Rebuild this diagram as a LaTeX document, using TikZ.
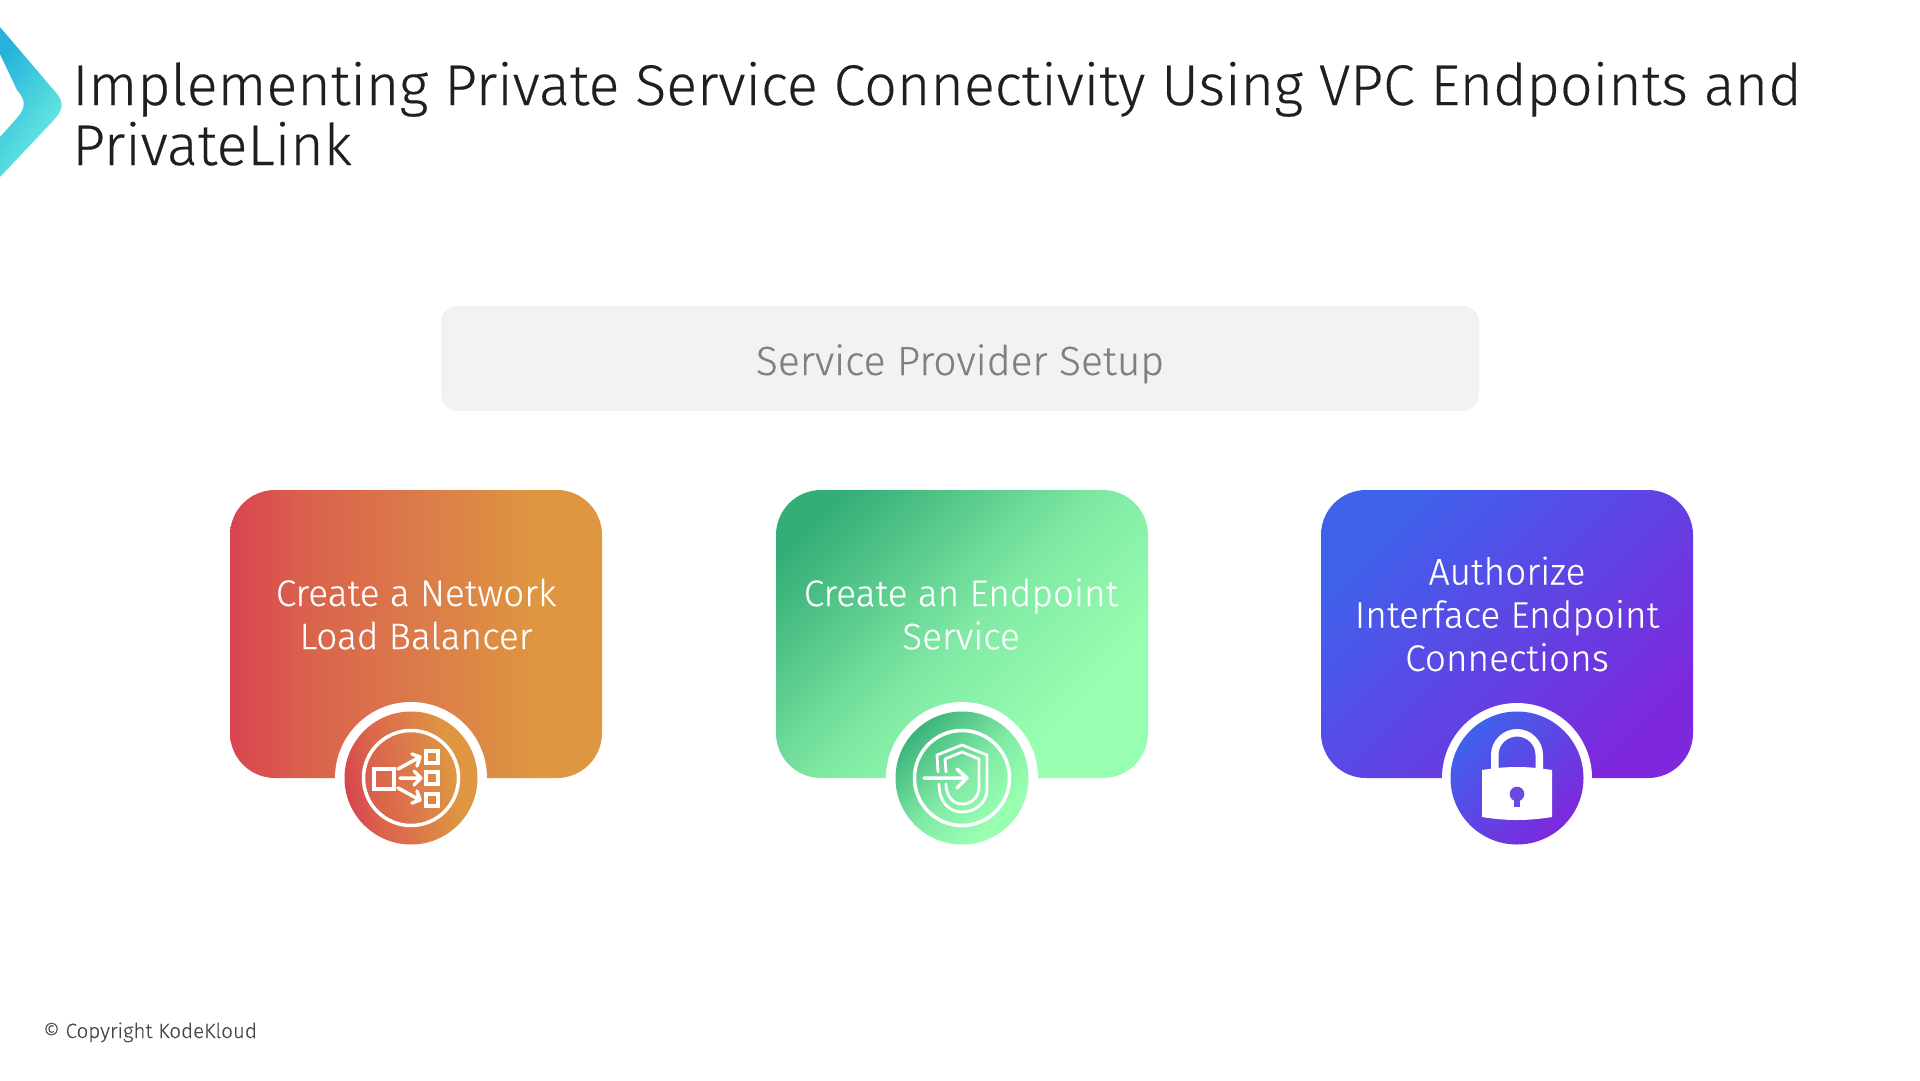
\documentclass[tikz,border=0pt]{standalone}
\usepackage{fontspec}
\setmainfont{Fira Sans Light}[FakeBold=0.25]
\usetikzlibrary{shapes.geometric}
\definecolor{rA}{HTML}{D9434F}\definecolor{rM}{HTML}{DB7A4A}\definecolor{rB}{HTML}{DE9640}
\definecolor{gA}{HTML}{34AD76}\definecolor{gM}{HTML}{80E9A4}\definecolor{gB}{HTML}{98FFB0}
\definecolor{bA}{HTML}{3F62EB}\definecolor{bM}{HTML}{6A4AE2}\definecolor{bB}{HTML}{7D28DC}
\definecolor{lgA}{HTML}{27B2DC}\definecolor{lgB}{HTML}{70F2E0}
\definecolor{panel}{HTML}{F2F2F2}
\pgfdeclareverticalshading{redramp}{100bp}{color(0bp)=(rA); color(25bp)=(rA); color(35bp)=(rA!45!rM); color(50bp)=(rM); color(66bp)=(rB); color(100bp)=(rB)}
\pgfdeclareverticalshading{greenramp}{100bp}{color(0bp)=(gB); color(30bp)=(gB); color(50bp)=(gM); color(78bp)=(gA); color(100bp)=(gA)}
\tikzset{
 cardbox/.style={rounded corners=45pt,minimum width=372pt,minimum height=288pt,inner sep=0pt,draw=none},
 ringdisc/.style={circle,fill=white,minimum size=152pt,inner sep=0pt},
 colordisc/.style={circle,minimum size=133pt,inner sep=0pt,draw=none},
 redshade/.style={shading=redramp,shading angle=-90},
 greenshade/.style={shading=greenramp,shading angle=45},
 blueshade/.style={top color=bA,middle color=bM,bottom color=bB,shading angle=45},
 cardtext/.style={text=white,font=\fontsize{37}{43.2}\selectfont,align=center},
 iconline/.style={draw=white,line width=3.5pt,line cap=round,line join=round,fill=none},
 iconring/.style={draw=white,line width=3.5pt,circle,minimum size=95pt,inner sep=0pt},
}
\begin{document}
\begin{tikzpicture}[x=1pt,y=-1pt]
\useasboundingbox (0,0) rectangle (1920,1080);
\fill[white] (0,0) rectangle (1920,1080);
% logo
\shade[top color=lgA,middle color=lgA!25!lgB,bottom color=lgB,shading angle=55]
 (0,27) -- (52,88) .. controls (65,102) and (65,108) .. (52,122) -- (0,177) -- (0,137)
 -- (17,118) .. controls (26,108) and (26,100) .. (17,90) -- (0,54) -- cycle;
% title
\node[anchor=base west,inner sep=0pt,text=black!88,font=\fontsize{57.4}{60}\selectfont] (title1) at (72,105) {Implementing Private Service Connectivity Using VPC Endpoints and};
\node[anchor=base west,inner sep=0pt,text=black!88,font=\fontsize{57.4}{60}\selectfont] (title2) at (72,165) {PrivateLink};
% header
\node[fill=panel,rounded corners=16pt,minimum width=1038pt,minimum height=105pt,inner sep=0pt] (panel) at (960,358.5) {};
\node[anchor=base,inner sep=0pt,text=black!50,font=\fontsize{40.8}{48}\selectfont] (paneltext) at (960,375) {Service Provider Setup};
% cards
\node[cardbox,redshade] (card1) at (416,634) {};
\node[cardbox,greenshade] (card2) at (962,634) {};
\node[cardbox,blueshade] (card3) at (1507,634) {};
\node[cardtext] (text1) at (416,614) {Create a Network\\Load Balancer};
\node[cardtext] (text2) at (961,614) {Create an Endpoint\\Service};
\node[cardtext] (text3) at (1507,614) {Authorize\\Interface Endpoint\\Connections};
% discs
\node[ringdisc] (ring1) at (411,778) {};
\node[ringdisc] (ring2) at (962,778) {};
\node[ringdisc,minimum size=150pt] (ring3) at (1517,778) {};
\node[colordisc,redshade,shading angle=-80] (disc1) at (411,778) {};
\node[colordisc,greenshade] (disc2) at (962,778) {};
\node[colordisc,blueshade] (disc3) at (1517,778) {};
% icon 1
\begin{scope}[shift={(411,778)}]
 \node[iconring] (iring1) at (0,0) {};
 \draw[iconline,line width=4pt,line join=miter] (-37,-9) rectangle (-17,11);
 \draw[iconline,line width=4pt,line join=miter] (15,-27) rectangle (27,-15);
 \draw[iconline,line width=4pt,line join=miter] (15,-6) rectangle (27,6);
 \draw[iconline,line width=4pt,line join=miter] (15,16) rectangle (27,28);
 \draw[iconline] (-13,-9) -- (9,-21) (1,-24) -- (9,-21) -- (6,-12);
 \draw[iconline] (-11,0) -- (10,0) (3,-7) -- (10,0) -- (3,7);
 \draw[iconline] (-13,10) -- (9,22) (6,13) -- (9,22) -- (1,25);
\end{scope}
% icon 2
\begin{scope}[shift={(962,778)}]
 \node[iconring] (iring2) at (0,0) {};
 \draw[iconline,line width=2.8pt] (-24,-6) -- (-25,-23) -- (0,-33) -- (25,-23) -- (25,11) .. controls (25,26) and (12,34) .. (0,34) .. controls (-12,34) and (-23,25) .. (-23,6);
 \draw[iconline,line width=2.8pt] (-16,-6) -- (-17,-19) -- (0,-26) -- (17,-19) -- (17,9) .. controls (17,20) and (9,26) .. (0,26) .. controls (-9,26) and (-16,18) .. (-16,6);
 \draw[iconline] (-38,0) -- (5,0) (-5,-9) -- (5,0) -- (-5,10);
\end{scope}
% icon 3
\begin{scope}[shift={(1517,778)}]
 \fill[white] (-26,-9) -- (-26,-23) .. controls (-26,-37.3) and (-14.3,-49) .. (0,-49) .. controls (14.3,-49) and (26,-37.3) .. (26,-23) -- (26,-9) -- (18.5,-9) -- (18.5,-23) .. controls (18.5,-33.5) and (10,-41.5) .. (0,-41.5) .. controls (-10,-41.5) and (-18.5,-33.5) .. (-18.5,-23) -- (-18.5,-9) -- cycle;
 \fill[white] (-35,-8) .. controls (-10,-12) and (10,-12) .. (35,-8) -- (35,39) .. controls (10,43) and (-10,43) .. (-35,39) -- cycle;
 \fill[bM] (0,16) circle (7.3pt);
 \fill[bM] (-2.6,18) rectangle (2.6,28.5);
\end{scope}
% footer
\node[anchor=base west,inner sep=0pt,text=black!72,font=\fontsize{20.6}{24}\selectfont] (copy) at (43,1038) {© Copyright KodeKloud};
\end{tikzpicture}
\end{document}
